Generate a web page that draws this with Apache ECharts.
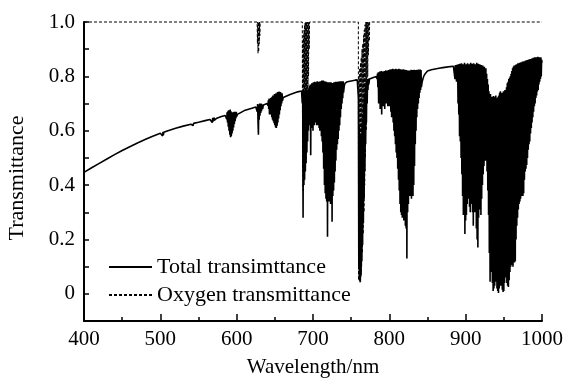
<!DOCTYPE html>
<html>
<head>
<meta charset="utf-8">
<script src="https://cdn.jsdelivr.net/npm/echarts@6/dist/echarts.min.js"></script>
<style>
html,body{margin:0;padding:0;background:#fff;}
#chart{width:565px;height:379px;}
</style>
</head>
<body>
<div id="chart"></div>
<script>
// ---------- DATA ----------
const seriesNames = ['Total transimttance', 'Oxygen transmittance'];
const xTickValues = [400, 500, 600, 700, 800, 900, 1000];
const xTickLabels = ['400', '500', '600', '700', '800', '900', '1000'];
const yTickValues = [0, 0.2, 0.4, 0.6, 0.8, 1.0];
const yTickLabels = ['0', '0.2', '0.4', '0.6', '0.8', '1.0'];

// total transmittance, [wavelength nm, transmittance]
const totalVisible = [
  [400,.447],[410,.464],[420,.48],[430,.496],[440,.512],[450,.527],[460,.541],[470,.555],[480,.568],[490,.58],[500,.591],
  [501,.592],[502,.586],[502.5,.595],[503,.581],[503.5,.596],[504,.584],[504.5,.594],[505,.588],[506,.595],
  [510,.60],[520,.609],[530,.617],[540,.624],
  [541,.62],[541.5,.627],[542,.617],[542.5,.628],[543,.619],[543.5,.627],[544,.621],[545,.627],
  [550,.631],[560,.638],[565,.641],
  [566,.637],[566.5,.645],[567,.634],[567.5,.646],[568,.63],[568.5,.647],[569,.633],[569.5,.648],[570,.636],[570.5,.648],[571,.639],[572,.645],[573,.641],[574,.646],[575,.648],
  [580,.652],[585,.656],
  [586,.65],[586.5,.663],[587,.642],[587.5,.668],[588,.63],[588.5,.672],[589,.615],[589.5,.675],[590,.6],[590.5,.67],[591,.585],[591.5,.678],[592,.576],[592.5,.672],[593,.58],[593.5,.668],[594,.59],[594.5,.666],[595,.6],[595.5,.668],[596,.612],[596.5,.67],[597,.625],[597.5,.668],[598,.635],[598.5,.67],[599,.645],[599.5,.67],[600,.652],[601,.66],[602,.662],[603,.666],
  [610,.674],[620,.683],[625,.687],
  [626,.684],[626.5,.692],[627,.67],[627.5,.698],[628,.63],[628.5,.585],[629,.695],[629.5,.64],[630,.70],[630.5,.655],[631,.698],[631.5,.665],[632,.70],[632.5,.672],[633,.697],[634,.68],[635,.695],[636,.693],
  [640,.70],
  [641,.692],[641.5,.712],[642,.68],[642.5,.718],[643,.66],[643.5,.715],[644,.67],[644.5,.72],[645,.66],[645.5,.722],[646,.65],[646.5,.725],[647,.64],[647.5,.73],[648,.635],[648.5,.728],[649,.628],[649.5,.735],[650,.62],[650.5,.73],[651,.612],[651.5,.738],[652,.61],[652.5,.735],[653,.618],[653.5,.742],[654,.63],[654.5,.74],[655,.645],[655.5,.744],[656,.66],[656.5,.738],[657,.675],[657.5,.742],[658,.69],[658.5,.736],[659,.70],[659.5,.738],[660,.71],[661,.722],[662,.72],
  [670,.733],[680,.743],[685,.746]
];
const totalRed = [
  [686,.70],[686.5,.745],[687,.28],[687.5,.74],[688,.40],[688.5,.742],[689,.42],[689.5,.74],[690,.45],[690.5,.745],[691,.48],[691.5,.748],[692,.52],[692.5,.75],[693,.56],[693.5,.752],[694,.60],[694.5,.755],
  [695,.64],[695.5,.765],[696,.62],[696.5,.77],[697,.51],[697.5,.768],[698,.61],[698.5,.775],[699,.63],[699.5,.77],[700,.60],[700.5,.778],[701,.63],[701.5,.772],[702,.62],[702.5,.78],[703,.64],[703.5,.775],[704,.63],[704.5,.778],[705,.62],[705.5,.782],[706,.64],[706.5,.776],[707,.62],[707.5,.78],[708,.61],[708.5,.775],[709,.6],[709.5,.782],[710,.6],[710.5,.778],[711,.58],[711.5,.785],[712,.56],[712.5,.78],[713,.52],[713.5,.785],[714,.46],[714.5,.778],[715,.40],[715.5,.782],[716,.37],[716.5,.776],[717,.35],[717.5,.78],[718,.34],[718.5,.775],[719,.21],[719.5,.778],[720,.35],[720.5,.772],[721,.34],[721.5,.778],[722,.35],[722.5,.774],[723,.33],[723.5,.778],[724,.35],[724.5,.772],[725,.265],[725.5,.776],[726,.36],[726.5,.775],[727,.38],[727.5,.778],[728,.41],[728.5,.776],[729,.45],[729.5,.78],[730,.49],[730.5,.778],[731,.53],[731.5,.78],[732,.55],[732.5,.779],[733,.57],[733.5,.781],[734,.6],[734.5,.78],[735,.62],[735.5,.782],[736,.65],[736.5,.78],[737,.68],[737.5,.782],[738,.7],[738.5,.781],[739,.72],[739.5,.782],[740,.74],[741,.765],[742,.775],
  [745,.78],[750,.783],[755,.786],[758,.787],
  [759,.78],[759.5,.72],[760,.10],[760.5,.62],[761,.05],[761.5,.58],[762,.044],[762.5,.55],[763,.07],[763.5,.58],[764,.12],[764.5,.62],[765,.18],[765.5,.66],[766,.26],[766.5,.70],[767,.35],[767.5,.73],[768,.45],[768.5,.76],[769,.55],[769.5,.775],[770,.63],[770.5,.785],[771,.70],[771.5,.79],[772,.75],[772.5,.792],[773,.77],[774,.79],[775,.794],
  [780,.797],[783,.799]
];
const totalNearIR = [
  [784,.79],[784.5,.81],[785,.76],[785.5,.815],[786,.70],[786.5,.812],[787,.74],[787.5,.818],[788,.68],[788.5,.815],[789,.72],[789.5,.82],[790,.66],[790.5,.812],[791,.71],[791.5,.818],[792,.69],[792.5,.815],[793,.72],[793.5,.82],[794,.68],[794.5,.816],[795,.71],[795.5,.822],[796,.70],[796.5,.818],[797,.72],[797.5,.82],[798,.69],[798.5,.823],[799,.71],[799.5,.82],[800,.69],[800.5,.825],[801,.70],[801.5,.82],[802,.67],[802.5,.826],[803,.65],[803.5,.82],[804,.66],[804.5,.828],[805,.63],[805.5,.822],[806,.60],[806.5,.826],[807,.58],[807.5,.82],[808,.55],[808.5,.828],[809,.52],[809.5,.822],[810,.50],[810.5,.826],[811,.46],[811.5,.82],[812,.42],[812.5,.828],[813,.38],[813.5,.824],[814,.33],[814.5,.826],[815,.30],[815.5,.82],[816,.29],[816.5,.825],[817,.28],[817.5,.82],[818,.30],[818.5,.826],[819,.27],[819.5,.82],[820,.29],[820.5,.824],[821,.25],[821.5,.82],[822,.24],[822.5,.823],[823,.13],[823.5,.82],[824,.30],[824.5,.822],[825,.33],[825.5,.818],[826,.36],[826.5,.822],[827,.38],[827.5,.82],[828,.36],[828.5,.824],[829,.35],[829.5,.82],[830,.37],[830.5,.823],[831,.36],[831.5,.82],[832,.40],[832.5,.824],[833,.47],[833.5,.82],[834,.55],[834.5,.823],[835,.60],[835.5,.821],[836,.65],[836.5,.824],[837,.68],[837.5,.822],[838,.70],[838.5,.825],[839,.72],[839.5,.822],[840,.74],[840.5,.825],[841,.75],[841.5,.823],[842,.76],[843,.78],[844,.79],[845,.80],[846,.805],[847,.81],[848,.815],[850,.82],
  [855,.824],[860,.827],[865,.83],[870,.832],[875,.834],[880,.836],[884,.837],
  [885,.83],[885.5,.84],[886,.79],[886.5,.842],[887,.81],[887.5,.84],[888,.78],[888.5,.843],[889,.80],[889.5,.84],[890,.70],[890.5,.845],[891,.66],[891.5,.84],[892,.58],[892.5,.846],[893,.56],[893.5,.84],[894,.50],[894.5,.848],[895,.44],[895.5,.835],[896,.36],[896.5,.845],[897,.29],[897.5,.838],[898,.32],[898.5,.85],[899,.22],[899.5,.84],[900,.27],[900.5,.845],[901,.29],[901.5,.835],[902,.33],[902.5,.848],[903,.35],[903.5,.838],[904,.36],[904.5,.845],[905,.32],[905.5,.84],[906,.30],[906.5,.85],[907,.33],[907.5,.836],[908,.36],[908.5,.846],[909,.30],[909.5,.84],[910,.25],[910.5,.848],[911,.30],[911.5,.835],[912,.34],[912.5,.845],[913,.30],[913.5,.838],[914,.24],[914.5,.85],[915,.20],[915.5,.84],[916,.17],[916.5,.846],[917,.28],[917.5,.835],[918,.34],[918.5,.845],[919,.31],[919.5,.83],[920,.29],[920.5,.842],[921,.35],[921.5,.83],[922,.40],[922.5,.84],[923,.44],[923.5,.825],[924,.47],[924.5,.835],[925,.50],[925.5,.82],[926,.49],[926.5,.83],[927,.51],[927.5,.81],[928,.45],[928.5,.79],[929,.38],[929.5,.77],
  [930,.29],[930.5,.745],[931,.15],[931.5,.73],[932,.044],[932.5,.735],[933,.08],[933.5,.72],[934,.095],[934.5,.725],[935,.04],[935.5,.72],[936,.01],[936.5,.728],[937,.02],[937.5,.72],[938,.03],[938.5,.725],[939,.05],[939.5,.73],[940,.044],[940.5,.72],[941,.02],[941.5,.714],[942,.01],[942.5,.725],[943,.003],[943.5,.73],[944,.02],[944.5,.74],[945,.03],[945.5,.745],[946,.044],[946.5,.735],[947,.03],[947.5,.74],[948,.015],[948.5,.73],[949,.007],[949.5,.745],[950,.01],[950.5,.735],[951,.04],[951.5,.75],[952,.06],[952.5,.745],[953,.07],[953.5,.76],[954,.04],[954.5,.775],[955,.03],[955.5,.78],[956,.025],[956.5,.79],[957,.05],[957.5,.795],[958,.08],[958.5,.80],[959,.10],[959.5,.81],[960,.106],[960.5,.82],[961,.11],[961.5,.83],[962,.10],[962.5,.835],[963,.12],[963.5,.84],[964,.115],[964.5,.838],[965,.12],[965.5,.842],[966,.20],[966.5,.845],[967,.25],[967.5,.84],[968,.28],[968.5,.848],[969,.31],[969.5,.845],[970,.33],[970.5,.85],[971,.34],[971.5,.848],[972,.35],[972.5,.852],[973,.36],[973.5,.85],[974,.37],[974.5,.855],[975,.36],[975.5,.85],[976,.37],[976.5,.856],[977,.42],[977.5,.852],[978,.45],[978.5,.858],[979,.46],[979.5,.855],[980,.474],[980.5,.86],[981,.50],[981.5,.856],[982,.53],[982.5,.862],[983,.55],[983.5,.858],[984,.56],[984.5,.864],[985,.59],[985.5,.86],[986,.61],[986.5,.866],[987,.63],[987.5,.862],[988,.65],[988.5,.868],[989,.67],[989.5,.862],[990,.69],[990.5,.87],[991,.70],[991.5,.865],[992,.72],[992.5,.87],[993,.73],[993.5,.866],[994,.744],[994.5,.872],[995,.75],[995.5,.868],[996,.77],[996.5,.87],[997,.78],[997.5,.866],[998,.79],[998.5,.87],[999,.80],[999.5,.862],[1000,.85]
];

// oxygen-only transmittance, [wavelength nm, transmittance]
const oxygenGamma = [
  [400,1],[626.8,1],[627.2,.92],[627.6,1],[628,.885],[628.4,1],[628.8,.89],[629.2,1],[629.6,.92],[630,1],[630.4,.95],[630.8,1]
];
const oxygenB = [
  [686,1],[686.3,.45],[686.7,.93],[687,.38],[687.4,.95],[687.8,.4],[688.2,.97],[688.6,.44],[689,.99],[689.4,.48],[689.8,1],[690.2,.52],[690.6,1],[691,.56],[691.4,1],[691.8,.6],[692.2,1],[692.6,.66],[693,1],[693.4,.72],[693.8,1],[694.2,.8],[694.6,1],[695,.9],[695.5,1]
];
const oxygenA = [
  [759.4,1],[759.7,.05],[760.2,.8],[760.7,.05],[761.2,.83],[761.7,.04],[762.2,.85],[762.7,.06],[763.2,.87],[763.7,.1],[764.2,.9],[764.7,.15],[765.2,.92],[765.7,.22],[766.2,.95],[766.7,.3],[767.2,.97],[767.7,.4],[768.2,.99],[768.7,.5],[769.2,1],[769.7,.6],[770.2,1],[770.7,.7],[771.2,1],[771.7,.8],[772.2,1],[772.7,.88],[773.2,1],[773.7,.93],[774.2,1],[775,1],[1000,1]
];

// ---------- CHART ----------
const FONT = 'Liberation Serif';
const totalData = totalVisible.concat(totalRed, totalNearIR);
const oxygenData = oxygenGamma.concat(oxygenB, oxygenA);

function lookupLabel(values, labels, v) {
  for (let i = 0; i < values.length; i++) {
    if (Math.abs(values[i] - v) < 1e-6) return labels[i];
  }
  return '';
}

const chart = echarts.init(document.getElementById('chart'), null, {renderer: 'canvas'});
chart.setOption({
  animation: false,
  backgroundColor: '#ffffff',
  textStyle: {fontFamily: FONT, color: '#000'},
  grid: {left: 84, right: 23, top: 22, bottom: 58, containLabel: false, outerBoundsMode: 'none'},
  legend: {
    show: true,
    orient: 'vertical',
    left: 103,
    top: 251,
    itemWidth: 43,
    itemHeight: 14,
    itemGap: 6,
    itemStyle: {opacity: 0},
    textStyle: {fontFamily: FONT, fontSize: 22, color: '#000'},
    data: seriesNames
  },
  xAxis: {
    type: 'value',
    min: 400, max: 1000, interval: 100,
    name: 'Wavelength/nm',
    nameLocation: 'middle',
    nameGap: 36,
    nameTextStyle: {fontFamily: FONT, fontSize: 21, color: '#000'},
    axisLine: {show: true, onZero: false, lineStyle: {color: '#000', width: 2}},
    axisTick: {show: true, inside: true, length: 7, lineStyle: {color: '#000', width: 1.5}},
    minorTick: {show: true, splitNumber: 2, length: 4, lineStyle: {color: '#000', width: 1.5}},
    axisLabel: {
      fontFamily: FONT, fontSize: 21, color: '#000', margin: 8,
      formatter: v => lookupLabel(xTickValues, xTickLabels, v)
    },
    splitLine: {show: false}
  },
  yAxis: {
    type: 'value',
    min: -0.1, max: 1.0, interval: 0.1,
    name: 'Transmittance',
    nameLocation: 'middle',
    nameGap: 56,
    nameTextStyle: {fontFamily: FONT, fontSize: 22, color: '#000', padding: [0, 13, 0, 0]},
    axisLine: {show: true, onZero: false, lineStyle: {color: '#000', width: 2}},
    axisTick: {show: true, inside: true, length: 5, lineStyle: {color: '#000', width: 1.5}},
    axisLabel: {
      fontFamily: FONT, fontSize: 21, color: '#000', margin: 9,
      formatter: v => lookupLabel(yTickValues, yTickLabels, Math.round(v * 10) / 10)
    },
    splitLine: {show: false}
  },
  series: [
    {
      name: seriesNames[0],
      type: 'line',
      data: totalData,
      showSymbol: false,
      symbol: 'none',
      sampling: null,
      clip: false,
      lineStyle: {color: '#000', width: 1.6, type: 'solid'},
      itemStyle: {color: '#000'},
      z: 3
    },
    {
      name: seriesNames[1],
      type: 'line',
      data: oxygenData,
      showSymbol: false,
      symbol: 'none',
      sampling: null,
      clip: false,
      lineStyle: {color: '#000', width: 1, type: [3, 2]},
      itemStyle: {color: '#000'},
      z: 2
    }
  ]
});
</script>
</body>
</html>
